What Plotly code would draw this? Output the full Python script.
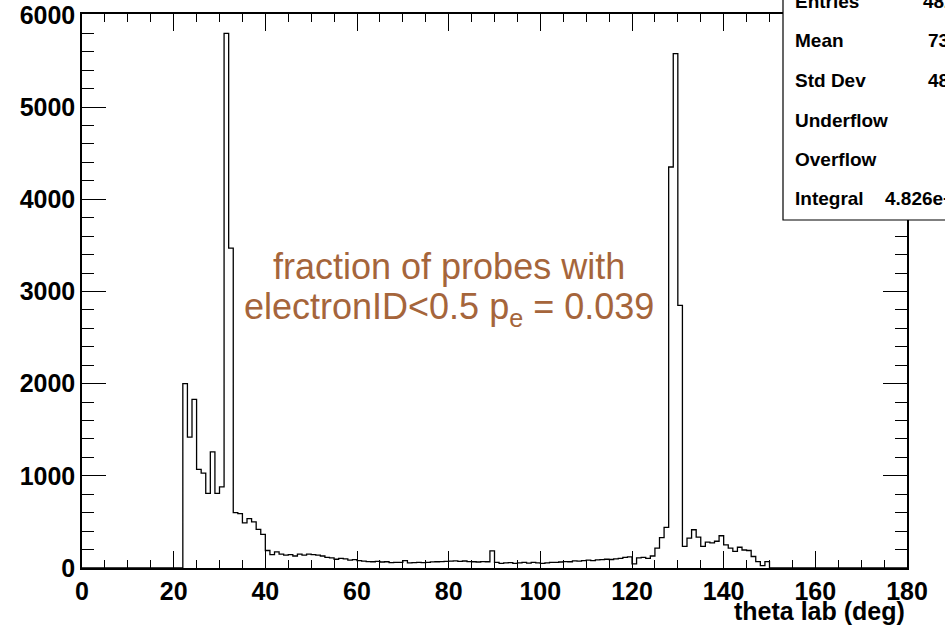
import plotly.graph_objects as go

# ---- data (1-degree bins from 0 to 180) ----
bin_edges = list(range(0, 181))
counts = [
    0, 0, 0, 0, 0, 0, 0, 0, 0, 0,            # 0-9
    0, 0, 0, 0, 0, 0, 0, 0, 0, 0,            # 10-19
    0, 0, 2000, 1420, 1830, 1070, 1030, 810, 1260, 810,   # 20-29
    880, 5800, 3470, 600, 590, 490, 535, 500, 420, 365,   # 30-39
    190, 145, 175, 150, 140, 145, 130, 150, 140, 150,     # 40-49
    145, 140, 130, 115, 110, 95, 105, 100, 85, 90,        # 50-59
    80, 75, 70, 68, 72, 65, 68, 58, 62, 62,               # 60-69
    80, 55, 58, 62, 58, 62, 66, 68, 70, 72,               # 70-79
    74, 78, 72, 76, 70, 68, 65, 70, 68, 185,              # 80-89
    62, 50, 55, 58, 50, 55, 60, 52, 62, 55,               # 90-99
    50, 55, 60, 62, 65, 70, 68, 78, 75, 80,               # 100-109
    85, 80, 88, 90, 95, 92, 100, 105, 115, 120,           # 110-119
    45, 110, 115, 105, 130, 215, 330, 440, 4350, 5580,    # 120-129
    2850, 235, 325, 415, 335, 235, 280, 272, 290, 350,    # 130-139
    250, 215, 180, 225, 195, 190, 125, 70, 25, 70,        # 140-149
    0, 0, 0, 0, 0, 0, 0, 0, 0, 0,            # 150-159
    0, 0, 0, 0, 0, 0, 0, 0, 0, 0,            # 160-169
    0, 0, 0, 0, 0, 0, 0, 0, 0, 0,            # 170-179
]

x_ticks = [0, 20, 40, 60, 80, 100, 120, 140, 160, 180]
y_ticks = [0, 1000, 2000, 3000, 4000, 5000, 6000]
x_title = "theta lab (deg)"
note_line1 = "fraction of probes with"
note_line2 = "electronID&lt;0.5 p<sub>e</sub> = 0.039"
stat_labels = ["Entries", "Mean", "Std Dev", "Underflow", "Overflow", "Integral"]
stat_values = ["48260", "73.42", "48.61", "0", "0", "4.826e+04"]

# ---- geometry helpers (pixel layout) ----
W, H = 945, 627
L, R, T, B = 82, 38, 14, 59
pw, ph = W - L - R, H - T - B


def px(xp):
    return (xp - L) / pw


def py(yp):
    return (H - B - yp) / ph


step_x = bin_edges
step_y = counts + [counts[-1]]

fig = go.Figure()
fig.add_trace(go.Scatter(
    x=step_x, y=step_y, mode="lines", line_shape="hv",
    line=dict(color="black", width=1.3), hoverinfo="skip", showlegend=False,
))

bold = dict(family="Liberation Sans, Arial, Helvetica", size=25, color="black", weight="bold")

fig.update_layout(
    width=W, height=H,
    margin=dict(l=L, r=R, t=T, b=B, autoexpand=False),
    paper_bgcolor="white", plot_bgcolor="white",
    showlegend=False,
    xaxis=dict(
        range=[0, 180], tickvals=x_ticks, ticktext=[str(v) for v in x_ticks],
        ticks="inside", ticklen=17, tickwidth=1.2, tickcolor="black",
        minor=dict(dtick=5, tick0=0, ticks="inside", ticklen=8, tickwidth=1.2, tickcolor="black"),
        showline=True, linecolor="black", linewidth=1.5, mirror="ticks",
        showgrid=False, zeroline=False, tickfont=bold, automargin=False,
    ),
    yaxis=dict(
        range=[0, 6010], tickvals=y_ticks, ticktext=[str(v) for v in y_ticks],
        ticks="inside", ticklen=24, tickwidth=1.2, tickcolor="black",
        minor=dict(dtick=200, tick0=0, ticks="inside", ticklen=12, tickwidth=1.2, tickcolor="black"),
        showline=True, linecolor="black", linewidth=1.5, mirror="ticks",
        showgrid=False, zeroline=False, tickfont=bold, automargin=False,
    ),
)

# x axis title, right aligned at the frame's right edge
fig.add_annotation(
    text=x_title, xref="paper", yref="paper", x=1.0, y=py(611),
    xanchor="right", yanchor="middle", showarrow=False, font=bold,
)

# note text
note_font = dict(family="Liberation Sans, Arial, Helvetica", size=36, color="#a5653b")
fig.add_annotation(text=note_line1, xref="paper", yref="paper", x=px(449), y=py(266),
                   xanchor="center", yanchor="middle", showarrow=False, font=note_font)
fig.add_annotation(text=note_line2, xref="paper", yref="paper", x=px(449), y=py(309),
                   xanchor="center", yanchor="middle", showarrow=False, font=note_font)

# stats box
fig.add_shape(type="rect", xref="paper", yref="paper",
              x0=px(783), x1=px(1010), y0=py(220), y1=py(-10),
              fillcolor="white", line=dict(color="black", width=1.2), layer="above")
stat_font = dict(family="Liberation Sans, Arial, Helvetica", size=19, color="black", weight="bold")
row_y = [1, 40.5, 80, 120, 159.5, 199]
for lab, val, ry in zip(stat_labels, stat_values, row_y):
    fig.add_annotation(text=lab, xref="paper", yref="paper", x=px(793), y=py(ry),
                       xanchor="left", yanchor="middle", showarrow=False, font=stat_font)
    fig.add_annotation(text=val, xref="paper", yref="paper", x=px(978), y=py(ry),
                       xanchor="right", yanchor="middle", showarrow=False, font=stat_font)

fig.write_html("out.html", config={"displayModeBar": False},
               post_script="document.body.style.margin='0';")
